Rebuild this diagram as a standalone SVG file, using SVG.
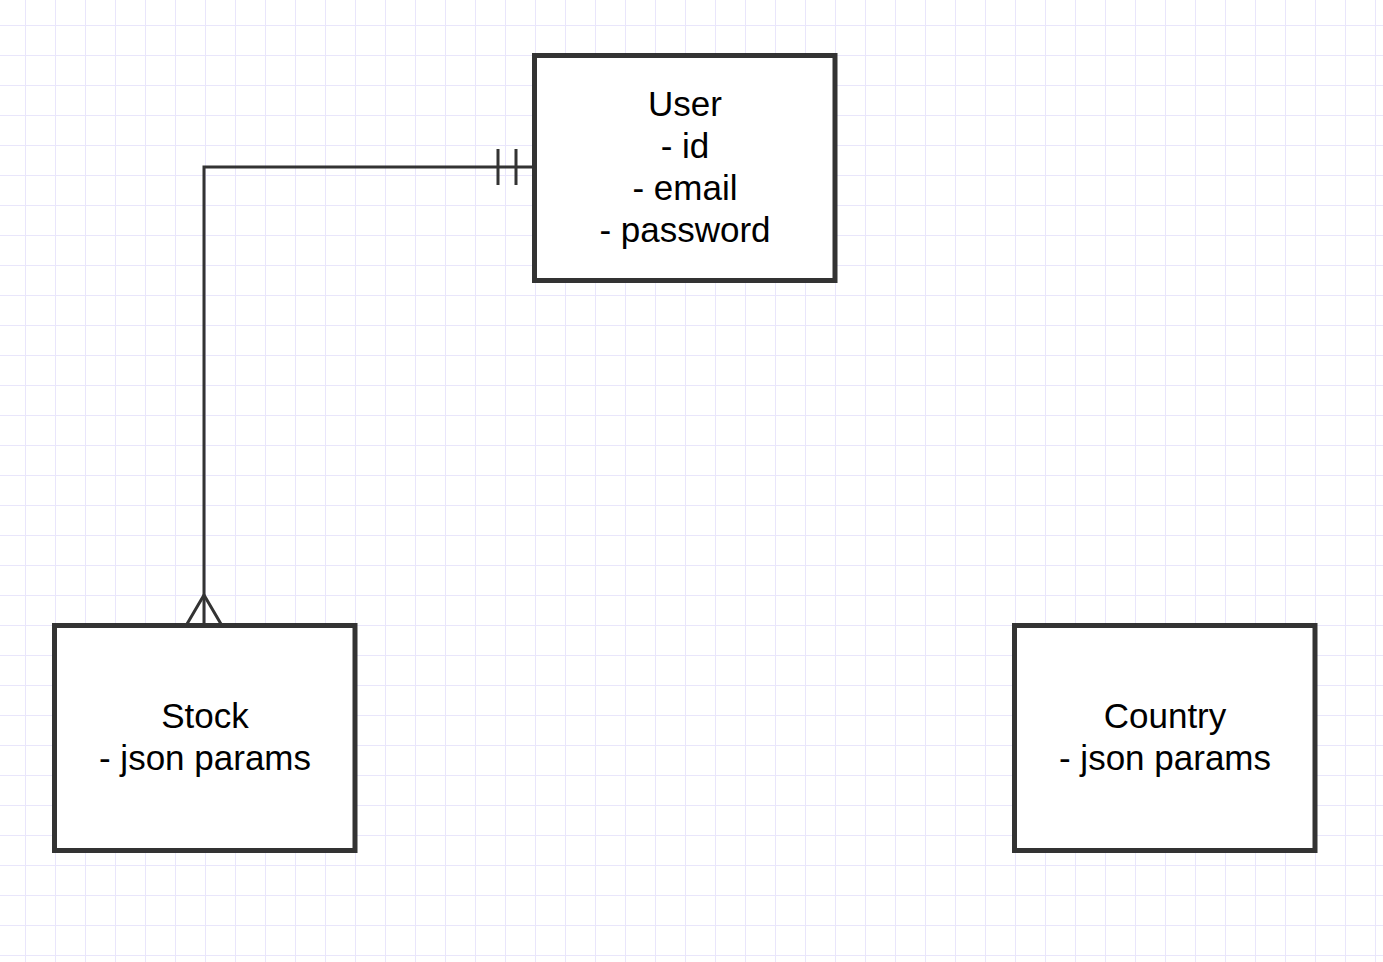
<svg xmlns="http://www.w3.org/2000/svg" width="1383" height="962" viewBox="0 0 1383 962">
<style>
.node rect{fill:#ffffff;stroke:#333333;stroke-width:5}
.node text{font-family:"Liberation Sans",Arial,Helvetica,sans-serif;font-size:35px;fill:#000000;text-anchor:middle}
.edge{fill:none;stroke:#333333;stroke-width:3}
.mk{fill:none;stroke:#333333;stroke-width:3}
</style>
<defs>
<pattern id="grid" x="25" y="25" width="30" height="30" patternUnits="userSpaceOnUse">
<path d="M0 0.5H30M0.5 0V30" fill="none" stroke="#e9e6fb" stroke-width="1"/>
</pattern>
<marker id="erMandOne" markerUnits="userSpaceOnUse" markerWidth="60" markerHeight="60" refX="0" refY="0" viewBox="-30 -30 60 60" orient="auto" overflow="visible">
<path class="mk" d="M19 -18V18M37 -18V18"/>
</marker>
<marker id="erMany" markerUnits="userSpaceOnUse" markerWidth="60" markerHeight="60" refX="0" refY="0" viewBox="-30 -30 60 60" orient="auto" overflow="visible">
<path class="mk" d="M-1 -17L-30 0L-1 17"/>
</marker>
</defs>
<rect x="0" y="0" width="1383" height="962" fill="#ffffff"/>
<rect x="0" y="0" width="1383" height="962" fill="url(#grid)"/>
<g id="connectors">
<path class="edge" d="M535 167H204V625" marker-start="url(#erMandOne)" marker-end="url(#erMany)"/>
</g>
<g id="user" class="node">
<rect x="534.5" y="55.5" width="300.5" height="225"/>
<text x="685" y="116">User</text>
<text x="685" y="158">- id</text>
<text x="685" y="200">- email</text>
<text x="685" y="242">- password</text>
</g>
<g id="stock" class="node">
<rect x="54.5" y="625.5" width="300.5" height="225"/>
<text x="205" y="728">Stock</text>
<text x="205" y="770">- json params</text>
</g>
<g id="country" class="node">
<rect x="1014.5" y="625.5" width="300.5" height="225"/>
<text x="1165" y="728">Country</text>
<text x="1165" y="770">- json params</text>
</g>
</svg>
